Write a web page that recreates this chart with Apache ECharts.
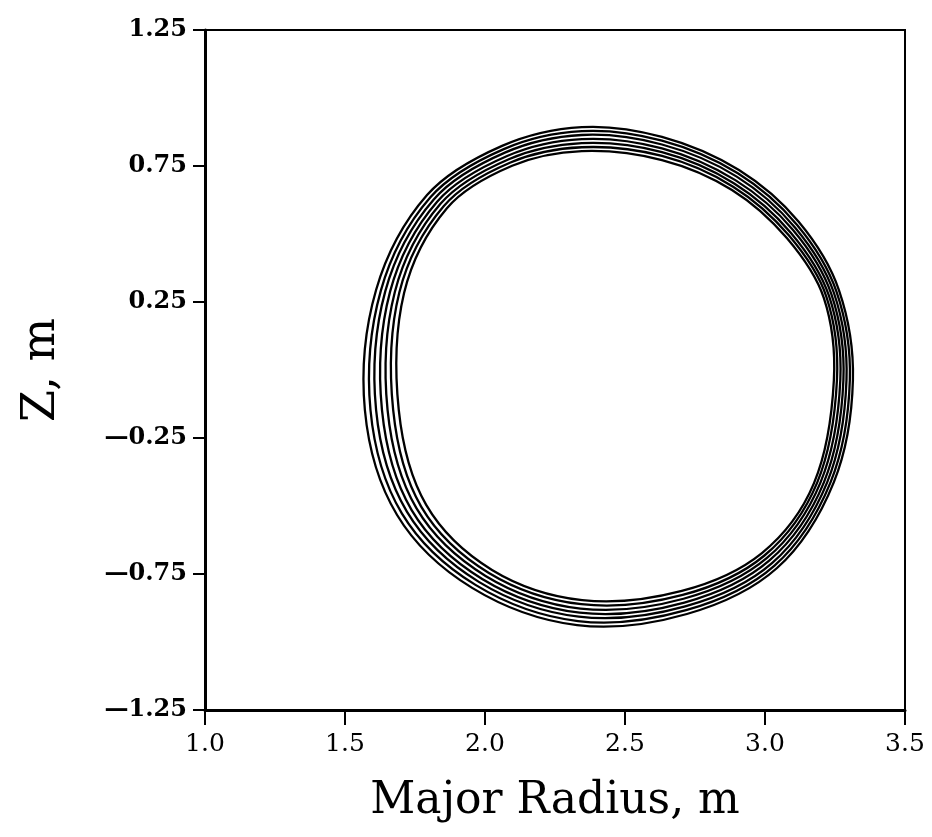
<!DOCTYPE html>
<html>
<head>
<meta charset="utf-8">
<script src="https://cdn.jsdelivr.net/npm/echarts@6/dist/echarts.min.js"></script>
<style>
  html, body { margin: 0; padding: 0; background: #fff; }
  #fluxMap { width: 932px; height: 837px; }
</style>
</head>
<body>
<div id="fluxMap"></div>
<script>
// axis ticks
var xTicks = [1.0, 1.5, 2.0, 2.5, 3.0, 3.5];
var yTicks = [-1.25, -0.75, -0.25, 0.25, 0.75, 1.25];

// flux surfaces [R, Z], outermost first
var flux1 = [[3.314,-0.037],[3.264,0.294],[3.121,0.544],[2.907,0.735],[2.632,0.857],[2.346,0.893],[2.061,0.824],[1.793,0.643],[1.611,0.294],[1.571,-0.147],[1.686,-0.533],[1.954,-0.801],[2.329,-0.938],[2.721,-0.897],[3.043,-0.728],[3.246,-0.412]];
var flux2 = [[3.303,-0.037],[3.255,0.289],[3.114,0.534],[2.903,0.723],[2.632,0.843],[2.346,0.878],[2.067,0.812],[1.805,0.635],[1.628,0.292],[1.591,-0.147],[1.703,-0.527],[1.966,-0.790],[2.332,-0.923],[2.718,-0.883],[3.034,-0.719],[3.234,-0.413]];
var flux3 = [[3.291,-0.037],[3.246,0.284],[3.107,0.524],[2.899,0.711],[2.632,0.829],[2.346,0.864],[2.073,0.800],[1.817,0.627],[1.644,0.290],[1.611,-0.147],[1.721,-0.521],[1.978,-0.779],[2.335,-0.907],[2.715,-0.869],[3.025,-0.710],[3.222,-0.413]];
var flux4 = [[3.280,-0.037],[3.237,0.279],[3.100,0.515],[2.894,0.698],[2.632,0.815],[2.346,0.849],[2.079,0.787],[1.829,0.619],[1.661,0.288],[1.632,-0.147],[1.738,-0.515],[1.990,-0.768],[2.338,-0.892],[2.712,-0.855],[3.016,-0.700],[3.210,-0.414]];
var flux5 = [[3.269,-0.037],[3.228,0.274],[3.092,0.505],[2.890,0.686],[2.632,0.801],[2.346,0.834],[2.085,0.775],[1.841,0.611],[1.678,0.287],[1.652,-0.147],[1.755,-0.508],[2.002,-0.757],[2.341,-0.877],[2.709,-0.841],[3.007,-0.691],[3.198,-0.414]];
var flux6 = [[3.257,-0.037],[3.219,0.270],[3.085,0.495],[2.886,0.674],[2.632,0.787],[2.346,0.819],[2.091,0.763],[1.853,0.603],[1.694,0.285],[1.672,-0.147],[1.772,-0.502],[2.014,-0.746],[2.344,-0.861],[2.706,-0.827],[2.998,-0.682],[3.186,-0.415]];
var flux7 = [[3.246,-0.037],[3.210,0.265],[3.078,0.485],[2.882,0.662],[2.632,0.772],[2.346,0.805],[2.097,0.751],[1.864,0.595],[1.711,0.283],[1.692,-0.147],[1.790,-0.496],[2.025,-0.735],[2.347,-0.846],[2.703,-0.812],[2.989,-0.673],[3.175,-0.416]];

var surfaces = [flux1, flux2, flux3, flux4, flux5, flux6, flux7];
var labelFont = '"DejaVu Serif", "Liberation Serif", serif';

// each surface is a closed smooth loop through its points
var series = surfaces.map(function (pts, i) {
  return {
    name: 'surface' + (i + 1),
    type: 'custom',
    coordinateSystem: 'cartesian2d',
    silent: true,
    renderItem: function (params, api) {
      if (params.dataIndex !== 0) return;
      var points = pts.map(function (p) { return api.coord(p); });
      return {
        type: 'polygon',
        shape: { points: points, smooth: 0.34 },
        style: { fill: 'none', stroke: '#000', lineWidth: 2.3 }
      };
    },
    data: pts
  };
});

var myChart = echarts.init(document.getElementById('fluxMap'));

var option = {
  backgroundColor: '#fff',
  animation: false,
  grid: {
    left: 205,
    right: 27,
    top: 30,
    bottom: 127,
    show: true,
    borderColor: '#000',
    borderWidth: 2
  },
  xAxis: {
    type: 'value',
    min: xTicks[0],
    max: xTicks[xTicks.length - 1],
    interval: 0.5,
    name: 'Major Radius, m',
    nameLocation: 'middle',
    nameGap: 70,
    nameTextStyle: { fontFamily: labelFont, fontSize: 44, color: '#000' },
    axisLine: { onZero: false, lineStyle: { color: '#000', width: 3 } },
    axisTick: { inside: false, length: 15, lineStyle: { color: '#000', width: 2 } },
    axisLabel: {
      margin: 22,
      fontFamily: labelFont,
      fontSize: 25,
      color: '#000',
      formatter: function (v) { return v.toFixed(1); }
    },
    splitLine: { show: false }
  },
  yAxis: {
    type: 'value',
    min: yTicks[0],
    max: yTicks[yTicks.length - 1],
    interval: 0.5,
    name: 'Z, m',
    nameLocation: 'middle',
    nameGap: 140,
    nameRotate: 90,
    nameTextStyle: { fontFamily: labelFont, fontSize: 46, color: '#000' },
    axisLine: { onZero: false, lineStyle: { color: '#000', width: 3 } },
    axisTick: { inside: false, length: 12, lineStyle: { color: '#000', width: 2 } },
    axisLabel: {
      margin: 18,
      fontFamily: labelFont,
      fontSize: 24,
      fontWeight: 'bold',
      color: '#000',
      formatter: function (v) { return v.toFixed(2).replace('-', '\u2014'); }
    },
    splitLine: { show: false }
  },
  series: series
};
myChart.setOption(option);
</script>
</body>
</html>
